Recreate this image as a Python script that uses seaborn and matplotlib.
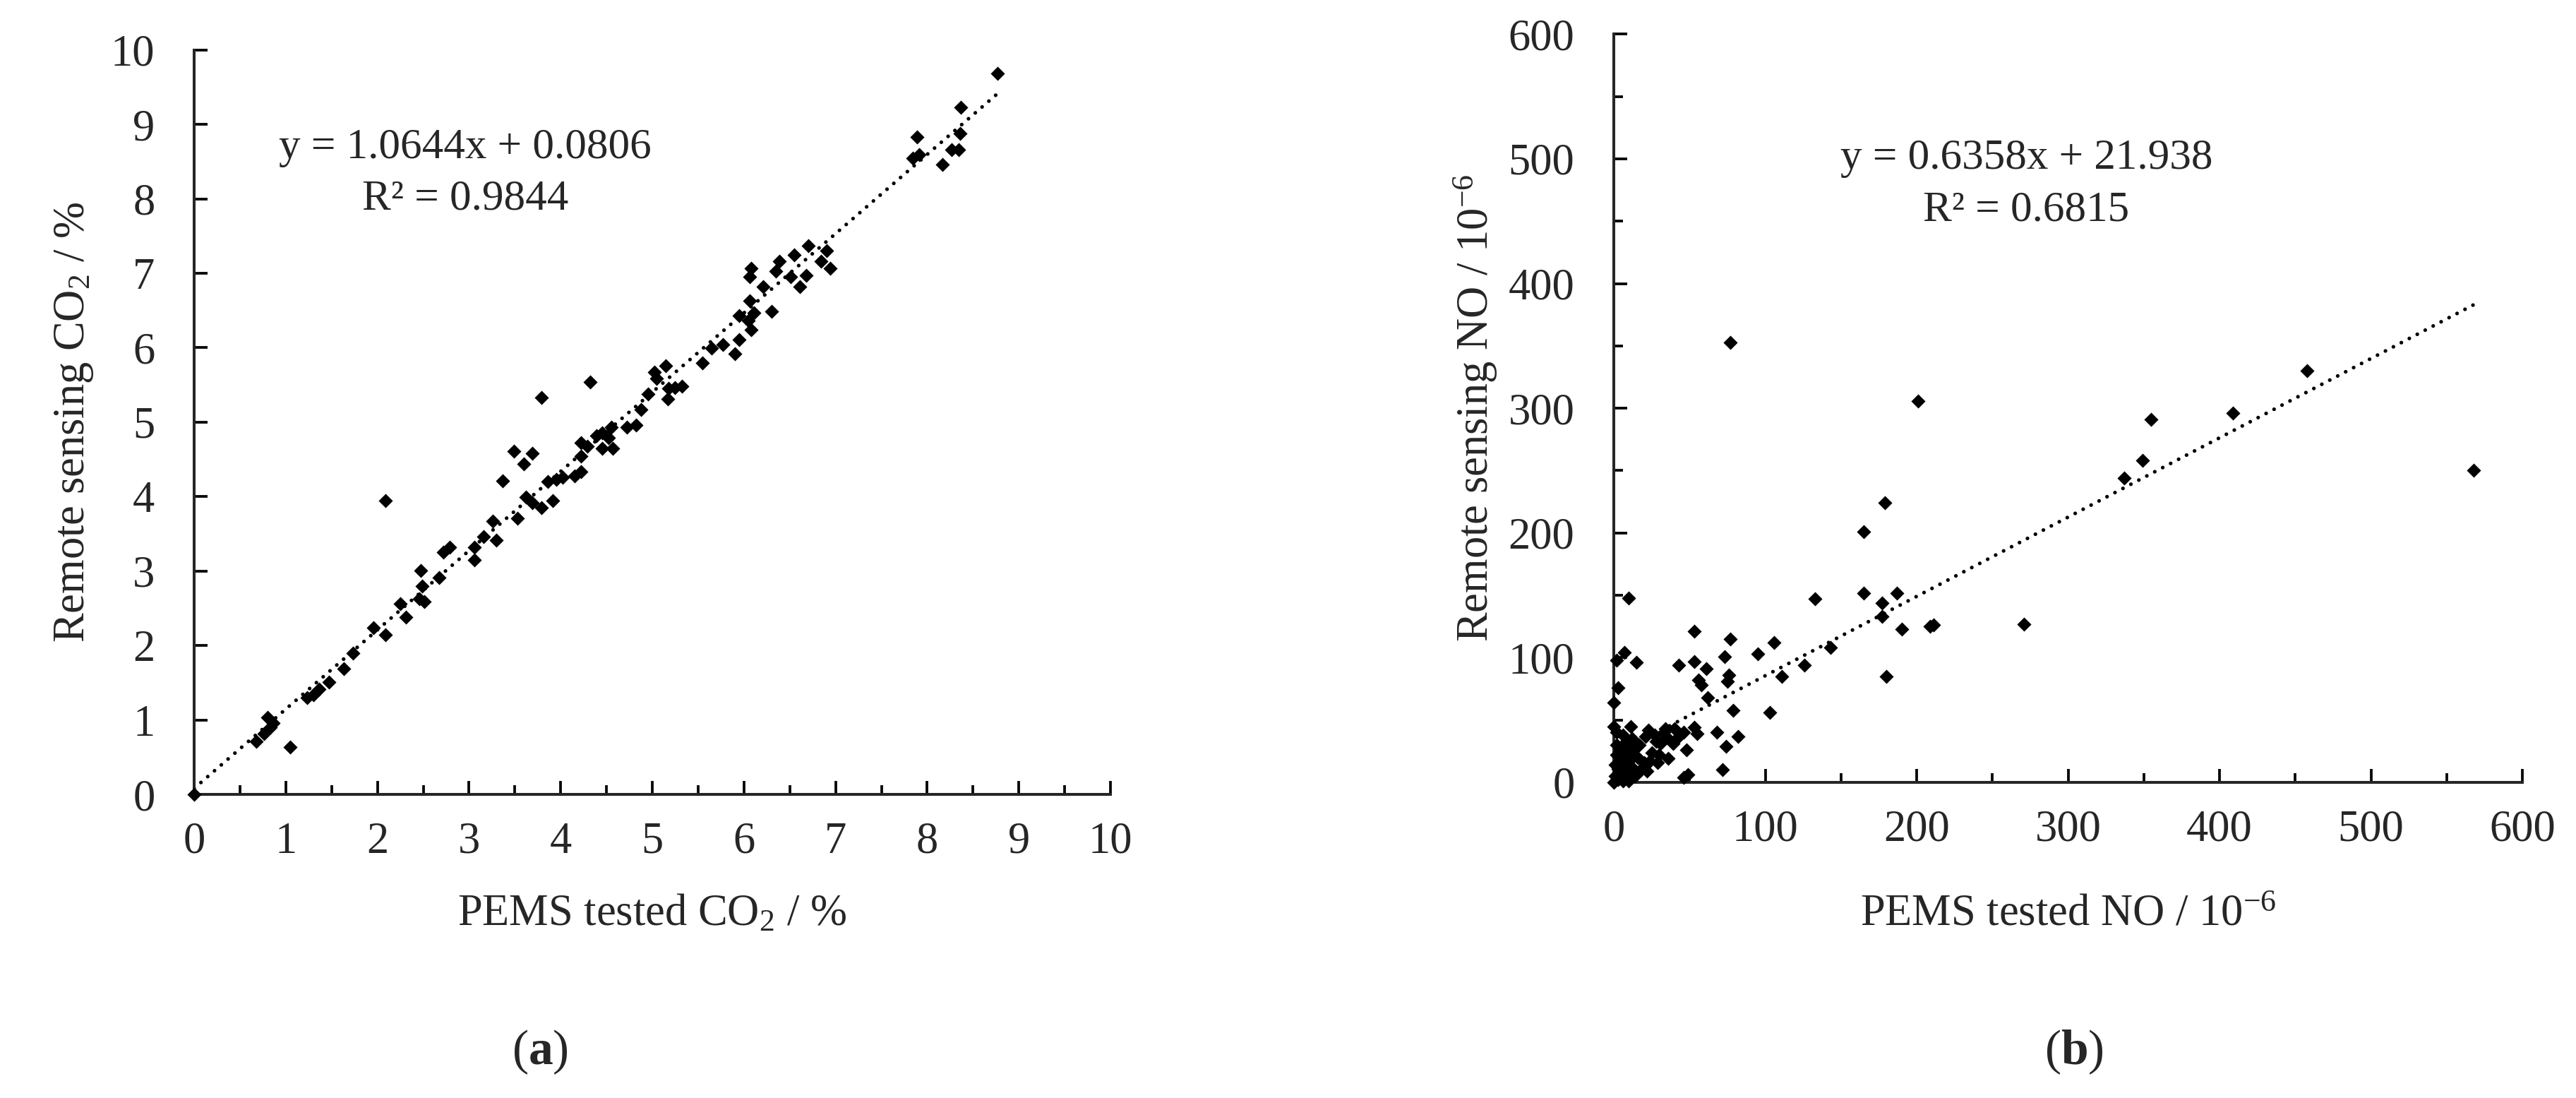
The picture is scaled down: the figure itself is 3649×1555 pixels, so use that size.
import matplotlib
matplotlib.use("Agg")
import matplotlib.pyplot as plt
import seaborn as sns
import numpy as np
from matplotlib.ticker import MultipleLocator

# (a) CO2: PEMS tested vs remote sensing, in %
co2_pems = [0.0, 0.68, 0.80, 0.86, 0.76, 0.83, 1.05, 1.23, 1.30, 1.36, 1.47, 1.63, 1.73,
            1.96, 2.09, 2.09, 2.25, 2.31, 2.46, 2.49, 2.47, 2.51, 2.67, 2.72, 2.79,
            3.06, 3.06, 3.16, 3.26, 3.30, 3.37, 3.49, 3.53, 3.60, 3.62, 3.69, 3.69,
            3.79, 3.79, 3.86, 3.91, 3.95, 4.02, 4.15, 4.22, 4.22, 4.22, 4.29, 4.32,
            4.39, 4.45, 4.45, 4.52, 4.55, 4.57, 4.72, 4.82, 4.88, 4.95, 5.02, 5.05,
            5.15, 5.17, 5.18, 5.25, 5.32, 5.55, 5.65, 5.77, 5.90, 5.95, 5.95, 6.05,
            6.06, 6.08, 6.06, 6.08, 6.11, 6.21, 6.30, 6.35, 6.39, 6.51, 6.55, 6.61,
            6.68, 6.70, 6.84, 6.90, 6.94, 7.84, 7.91, 7.89, 8.17, 8.27, 8.34, 8.36,
            8.37, 8.77]
co2_rs = [0.0, 0.71, 1.03, 0.96, 0.82, 0.90, 0.64, 1.30, 1.34, 1.41, 1.51, 1.69, 1.90,
          2.24, 2.14, 3.95, 2.56, 2.38, 2.63, 2.80, 3.01, 2.59, 2.91, 3.25, 3.32,
          3.15, 3.32, 3.46, 3.67, 3.41, 4.21, 4.61, 3.71, 4.44, 3.99, 4.58, 3.92,
          3.85, 5.33, 4.20, 3.95, 4.23, 4.26, 4.28, 4.33, 4.54, 4.72, 4.68, 5.54,
          4.82, 4.86, 4.65, 4.79, 4.93, 4.65, 4.93, 4.96, 5.17, 5.38, 5.67, 5.59,
          5.76, 5.31, 5.45, 5.46, 5.48, 5.80, 5.99, 6.04, 5.92, 6.11, 6.43, 6.36,
          6.63, 6.24, 6.95, 7.07, 6.47, 6.82, 6.49, 7.03, 7.16, 6.95, 7.25, 6.82,
          6.97, 7.37, 7.16, 7.30, 7.07, 8.55, 8.59, 8.83, 8.46, 8.66, 8.66, 8.88,
          9.23, 9.68]

# (b) NO: PEMS tested vs remote sensing, in 10^-6
no_pems = [77, 201, 458, 355, 409, 349, 337, 568, 179, 165, 165, 187, 133, 177, 177,
           190, 209, 211, 271, 180,
           10, 53, 77, 106, 7, 95, 2, 15, 43, 53, 61, 73, 126, 143, 76, 56, 58, 75,
           111, 3, 0, 62, 79, 103, 53, 55, 11, 23, 34, 40, 46, 68, 82, 48, 74, 72,
           46, 49, 36, 22, 29,
           0, 4, 6, 9, 12, 4, 11, 16, 2, 7, 14, 3, 10, 20, 25, 39, 43, 31, 21,
           1, 2, 5, 8, 13, 17, 27, 35, 18, 6, 9, 30,
           1, 3, 5, 8, 12, 15, 2, 6, 10, 14, 19, 24, 28, 33, 0, 4]
no_rs = [353, 306, 330, 291, 296, 258, 244, 250, 224, 201, 152, 152, 147, 144, 133,
         123, 125, 126, 127, 85,
         148, 121, 115, 112, 104, 103, 98, 96, 94, 97, 91, 101, 94, 108, 86, 82, 78, 81,
         85, 76, 64, 68, 58, 56, 44, 39, 45, 42, 43, 43, 40, 40, 37, 26, 29, 10,
         4, 6, 19, 9, 16,
         0, 7, 20, 28, 35, 15, 13, 20, 22, 3, 5, 11, 1, 16, 24, 31, 37, 31, 37,
         5, 30, 25, 18, 26, 30, 38, 36, 10, 38, 8, 22,
         14, 2, 12, 32, 20, 8, 40, 1, 24, 30, 12, 17, 33, 40, 45, 26]

co2_fit = (1.0644, 0.0806, 0.9844)
no_fit = (0.6358, 21.938, 0.6815)

sns.set_style("ticks")
plt.rcParams['font.family'] = ['Liberation Serif', 'DejaVu Serif']
plt.rcParams['mathtext.fontset'] = 'custom'
plt.rcParams['mathtext.rm'] = 'Liberation Serif'
plt.rcParams['mathtext.it'] = 'Liberation Serif:italic'
plt.rcParams['mathtext.bf'] = 'Liberation Serif:bold'

FS = 45
W, H = 3649, 1555
fig = plt.figure(figsize=(W / 100, H / 100), dpi=100)


def px_axes(x0, x1, y_top, y_bot):
    return fig.add_axes([x0 / W, 1 - y_bot / H, (x1 - x0) / W, (y_bot - y_top) / H])


def draw_panel(ax, x, y, fit, lim, major, xminor, yminor, xlabel, ylabel,
               ylab_x, xlab_y, eq_xy, letter, letter_x):
    slope, icpt, r2 = fit
    xs = np.array([0, max(x)])
    ax.plot(xs, slope * xs + icpt, color='black', lw=3.8,
            linestyle=(0, (0.01, 2.4)), dash_capstyle='round', zorder=1)
    sns.scatterplot(x=x, y=y, marker='D', s=105, color='black', edgecolor='black',
                    linewidth=0, clip_on=False, zorder=3, ax=ax)
    ax.set_xlim(0, lim)
    ax.set_ylim(0, lim)
    ax.xaxis.set_major_locator(MultipleLocator(major))
    ax.yaxis.set_major_locator(MultipleLocator(major))
    if xminor:
        ax.xaxis.set_minor_locator(MultipleLocator(xminor))
    if yminor:
        ax.yaxis.set_minor_locator(MultipleLocator(yminor))
    sns.despine(ax=ax)
    for s in ['left', 'bottom']:
        ax.spines[s].set_linewidth(2.9)
    ax.tick_params(which='major', direction='in', length=14, width=2.7,
                   labelsize=FS, color='black')
    ax.tick_params(which='minor', direction='in', length=9.5, width=2.7, color='black')
    ax.tick_params(axis='x', which='major', pad=28)
    ax.tick_params(axis='y', which='major', pad=40)
    ax.set_xlabel(xlabel, fontsize=FS)
    ax.set_ylabel(ylabel, fontsize=FS)
    ax.xaxis.label.set_va('center')
    ax.yaxis.label.set_va('center')
    ax.xaxis.set_label_coords(0.5, xlab_y)
    ax.yaxis.set_label_coords(ylab_x, 0.5)
    ex, ey1, ey2 = eq_xy
    ax.text(ex, ey1, f'y = {slope}x + {icpt}', transform=ax.transAxes,
            ha='center', va='center', fontsize=FS - 1)
    ax.text(ex, ey2, f'R² = {r2}', transform=ax.transAxes,
            ha='center', va='center', fontsize=FS - 1)
    fig.text(letter_x / W, 1 - 1490 / H, f'($\\mathbf{{{letter}}}$)',
             ha='center', va='center', fontsize=FS + 5)


ax1 = px_axes(275, 1573, 70.7, 1125)
draw_panel(ax1, co2_pems, co2_rs, co2_fit, 10, 1, 0.5, None,
           'PEMS tested CO$_2$ / %', 'Remote sensing CO$_2$ / %',
           -0.131, -0.162, (0.296, 0.869, 0.800), 'a', 765)

ax2 = px_axes(2286, 3573, 48.3, 1108)
draw_panel(ax2, no_pems, no_rs, no_fit, 600, 100, 50, 50,
           'PEMS tested NO / 10$^{-6}$', 'Remote sensing NO / 10$^{-6}$',
           -0.152, -0.177, (0.454, 0.834, 0.765), 'b', 2938)

fig.savefig('out.png', dpi=100, facecolor='white')
